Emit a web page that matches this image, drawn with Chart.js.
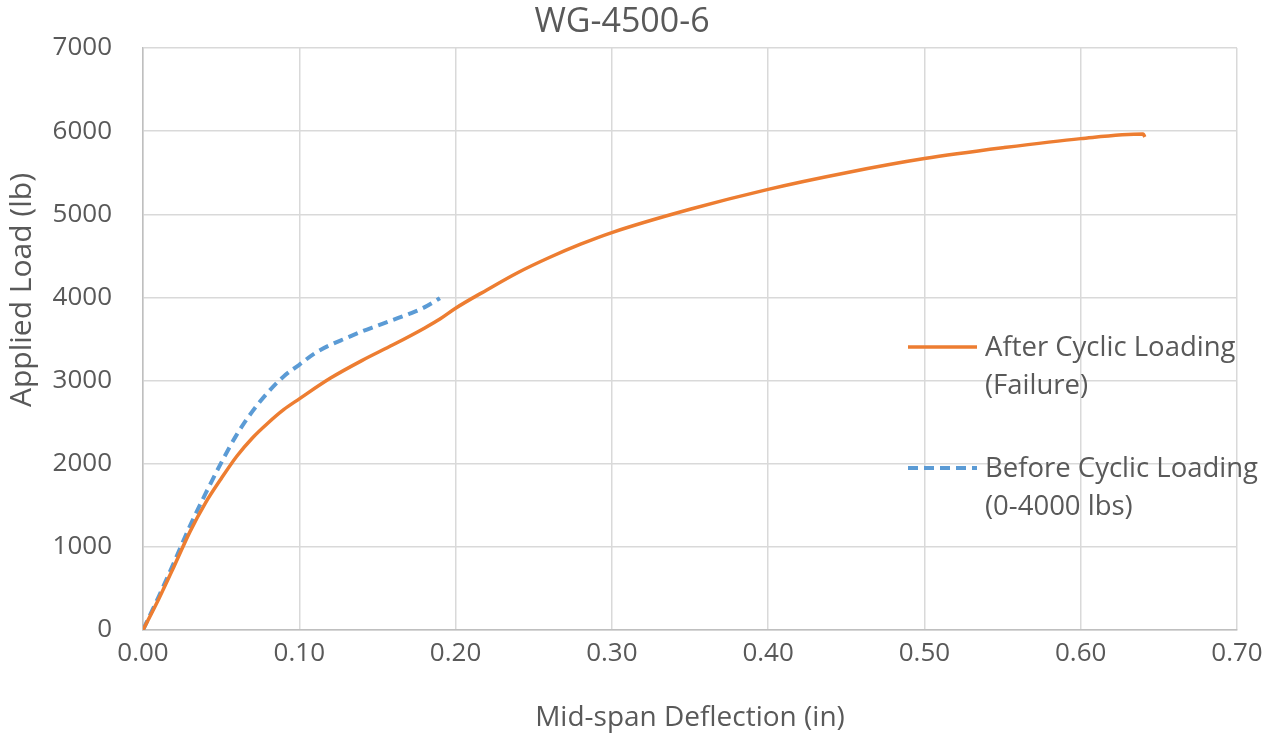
<!DOCTYPE html>
<html>
<head>
<meta charset="utf-8">
<script src="https://cdn.jsdelivr.net/npm/chart.js@4/dist/chart.umd.min.js"></script>
<style>
  html, body { margin: 0; padding: 0; background: #fff; }
  #wrap { width: 1281px; height: 737px; }
</style>
</head>
<body>
<div id="wrap"><canvas id="mainChart" width="1281" height="737"></canvas></div>
<script>
// data
var afterDefl = [0, 0.01, 0.02, 0.03, 0.04, 0.05, 0.06, 0.07, 0.08, 0.09, 0.10, 0.12, 0.14, 0.16, 0.18, 0.19, 0.20, 0.22, 0.24, 0.26, 0.28, 0.30, 0.35, 0.40, 0.45, 0.50, 0.55, 0.60, 0.64, 0.641];
var afterLoad = [0, 370, 770, 1180, 1530, 1820, 2090, 2310, 2490, 2650, 2780, 3030, 3240, 3430, 3630, 3740, 3870, 4090, 4300, 4480, 4640, 4780, 5060, 5300, 5500, 5670, 5800, 5910, 5965, 5930];

var beforeDefl = [0, 0.005, 0.01, 0.02, 0.03, 0.04, 0.05, 0.06, 0.07, 0.08, 0.09, 0.10, 0.11, 0.12, 0.13, 0.14, 0.15, 0.16, 0.17, 0.18, 0.19];
var beforeLoad = [0, 200, 400, 820, 1250, 1640, 2010, 2350, 2630, 2860, 3050, 3190, 3330, 3430, 3510, 3590, 3660, 3730, 3800, 3880, 3990];

var seriesNames = [['After Cyclic Loading', '(Failure)'], ['Before Cyclic Loading', '(0-4000 lbs)']];
var chartTitle = 'WG-4500-6';
var xTitle = 'Mid-span Deflection (in)';
var yTitle = 'Applied Load (lb)';

function pairs(xs, ys) {
    return xs.map(function (x, i) { return { x: x, y: ys[i] }; });
}

var fontFam = '"Open Sans", sans-serif';
var textColor = '#595959';

// title, axis titles and the two-line legend are drawn by hand
var extras = {
    id: 'extras',
    afterDraw: function (chart) {
        var ctx = chart.ctx;
        var area = chart.chartArea;
        ctx.save();
        ctx.fillStyle = textColor;
        ctx.textBaseline = 'middle';

        ctx.font = '34px ' + fontFam;
        ctx.textAlign = 'center';
        ctx.fillText(chartTitle, 622, 22);

        ctx.font = '28px ' + fontFam;
        ctx.fillText(xTitle, (area.left + area.right) / 2, 718);

        ctx.save();
        ctx.translate(22, 290);
        ctx.rotate(-Math.PI / 2);
        ctx.font = '30px ' + fontFam;
        ctx.fillText(yTitle, 0, 0);
        ctx.restore();

        // legend
        ctx.textAlign = 'left';
        ctx.font = '27.5px ' + fontFam;
        var rows = [347, 468];
        chart.data.datasets.forEach(function (ds, i) {
            var y = rows[i];
            ctx.beginPath();
            ctx.strokeStyle = ds.borderColor;
            ctx.lineWidth = ds.borderWidth;
            ctx.setLineDash(ds.borderDash || []);
            ctx.moveTo(908, y);
            ctx.lineTo(977, y);
            ctx.stroke();
            ctx.setLineDash([]);
            ctx.fillStyle = textColor;
            seriesNames[i].forEach(function (line, j) {
                ctx.fillText(line, 985, y + 1 + j * 38);
            });
        });
        ctx.restore();
    }
};

var ctx = document.getElementById('mainChart').getContext('2d');
var chart = new Chart(ctx, {
    type: 'line',
    data: {
        datasets: [{
            label: seriesNames[0].join(' '),
            data: pairs(afterDefl, afterLoad),
            borderColor: '#ED7D31',
            backgroundColor: '#ED7D31',
            borderWidth: 3.5,
            pointRadius: 0,
            cubicInterpolationMode: 'monotone',
            fill: false
        }, {
            label: seriesNames[1].join(' '),
            data: pairs(beforeDefl, beforeLoad),
            borderColor: '#5B9BD5',
            backgroundColor: '#5B9BD5',
            borderWidth: 4,
            borderDash: [10, 6],
            pointRadius: 0,
            cubicInterpolationMode: 'monotone',
            fill: false
        }]
    },
    options: {
        responsive: false,
        animation: false,
        layout: { padding: { top: 48, right: 44, left: 0, bottom: 0 } },
        plugins: {
            legend: { display: false },
            title: { display: false },
            tooltip: { enabled: false }
        },
        scales: {
            x: {
                type: 'linear',
                min: 0,
                max: 0.7,
                afterFit: function (s) { s.height = 107; },
                ticks: {
                    stepSize: 0.1,
                    color: textColor,
                    font: { family: fontFam, size: 26 },
                    padding: 8,
                    maxRotation: 0,
                    callback: function (v) { return v.toFixed(2); }
                },
                grid: { color: '#d9d9d9', lineWidth: 1.5, drawTicks: false },
                border: { color: '#bfbfbf', width: 1.5 }
            },
            y: {
                min: 0,
                max: 7000,
                afterFit: function (s) { s.width = 143; },
                ticks: {
                    stepSize: 1000,
                    color: textColor,
                    font: { family: fontFam, size: 26 },
                    padding: 31,
                    callback: function (v) { return String(v); }
                },
                grid: { color: '#d9d9d9', lineWidth: 1.5, drawTicks: false },
                border: { color: '#bfbfbf', width: 1.5 }
            }
        }
    },
    plugins: [extras]
});
</script>
</body>
</html>
